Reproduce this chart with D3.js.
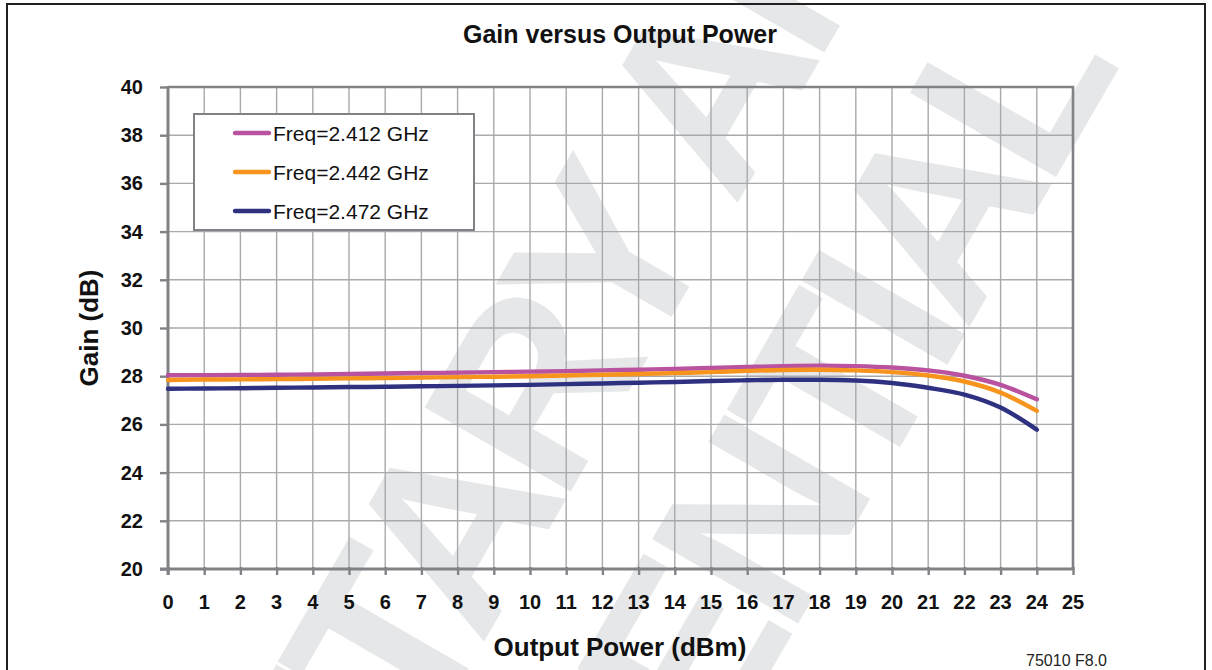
<!DOCTYPE html>
<html>
<head>
<meta charset="utf-8">
<script src="https://cdn.jsdelivr.net/npm/d3@7"></script>
<style>
  html, body { margin: 0; padding: 0; background: #fff; }
  svg { display: block; }
  text { font-family: "Liberation Sans", Arial, Helvetica, sans-serif; }
</style>
</head>
<body>
<svg id="chart" width="1212" height="670"></svg>
<script>
// ---- data ----
const outputPower = [0,1,2,3,4,5,6,7,8,9,10,11,12,13,14,15,16,17,18,19,20,21,22,23,24];
const gain2412 = [28.04,28.04,28.05,28.06,28.07,28.09,28.11,28.13,28.15,28.17,28.19,28.21,28.24,28.27,28.30,28.34,28.38,28.42,28.44,28.42,28.36,28.24,28.02,27.64,27.04];
const gain2442 = [27.84,27.86,27.87,27.88,27.89,27.91,27.92,27.94,27.96,27.98,28.00,28.03,28.06,28.09,28.13,28.17,28.22,28.26,28.27,28.24,28.17,28.03,27.78,27.32,26.56];
const gain2472 = [27.48,27.49,27.50,27.52,27.53,27.55,27.56,27.58,27.60,27.62,27.64,27.67,27.70,27.73,27.76,27.80,27.83,27.85,27.85,27.82,27.72,27.52,27.24,26.70,25.78];
const seriesNames = ["Freq=2.412 GHz","Freq=2.442 GHz","Freq=2.472 GHz"];
const seriesColors = ["#b9529f","#f7941e","#2e3080"];
const xTicks = d3.range(0, 26, 1);
const yTicks = d3.range(20, 41, 2);
const titleText = "Gain versus Output Power";
const xTitle = "Output Power (dBm)";
const yTitle = "Gain (dB)";
const figLabel = "75010 F8.0";
const watermark1 = "PROPRIETARY AND";
const watermark2 = "CONFIDENTIAL";

// ---- layout ----
const svg = d3.select("#chart");
const plot = {left: 168, right: 1073, top: 87, bottom: 569};
const x = d3.scaleLinear().domain([0, 25]).range([plot.left, plot.right]);
const y = d3.scaleLinear().domain([20, 40]).range([plot.bottom, plot.top]);

// ---- watermark (behind everything) ----
const wm = svg.append("g").attr("fill", "#e6e7e8")
  .style("font-weight", "bold").style("font-size", "245px").style("letter-spacing", "-14px");
function wmPos(xt, yt) { // text-space -> screen for rotate(-60)
  const c = 0.5, s = Math.sqrt(3) / 2;
  return [c * xt + s * yt, -s * xt + c * yt];
}
const w1 = wm.append("text").attr("text-anchor", "start").text(watermark1);
// place so that the "T" of "...TARY" starts at the measured spot
const pre = w1.node().getSubStringLength(0, 7);
let p1 = wmPos(-437 - pre, 740);
w1.attr("transform", `translate(${p1[0]},${p1[1]}) rotate(-60)`);
let p2 = wmPos(494, 1003);
wm.append("text").attr("transform", `translate(${p2[0]},${p2[1]}) rotate(-60)`)
  .attr("text-anchor", "end").text(watermark2);

// ---- outer frame ----
svg.append("rect").attr("x", 7).attr("y", 4).attr("width", 1198).attr("height", 720)
  .attr("fill", "none").attr("stroke", "#231f20").attr("stroke-width", 2);

// ---- grid ----
const grid = svg.append("g").attr("stroke", "#a7a9ac").attr("stroke-width", 1.4);
grid.selectAll("line.v").data(xTicks.slice(1, -1)).join("line")
  .attr("x1", d => x(d)).attr("x2", d => x(d)).attr("y1", plot.top).attr("y2", plot.bottom);
grid.selectAll("line.h").data(yTicks.slice(1, -1)).join("line")
  .attr("x1", plot.left).attr("x2", plot.right).attr("y1", d => y(d)).attr("y2", d => y(d));

// plot frame (top/right)
svg.append("path")
  .attr("d", `M${plot.left},${plot.top}H${plot.right}V${plot.bottom}`)
  .attr("fill", "none").attr("stroke", "#808285").attr("stroke-width", 2.6);

// ---- axes ----
const axisColor = "#808285";
const yAxis = svg.append("g").attr("transform", `translate(${plot.left},0)`)
  .call(d3.axisLeft(y).tickValues(yTicks).tickSize(8).tickFormat(""));
yAxis.select(".domain").remove();
yAxis.selectAll(".tick line").attr("stroke", axisColor).attr("stroke-width", 2.4);

const xAxis = svg.append("g").attr("transform", `translate(0,${plot.bottom - 2})`)
  .call(d3.axisBottom(x).tickValues(xTicks).tickSize(8).tickFormat(""));
xAxis.select(".domain").remove();
xAxis.selectAll(".tick line").attr("stroke", axisColor).attr("stroke-width", 2.4);

svg.append("line").attr("x1", plot.left).attr("x2", plot.left)
  .attr("y1", plot.top - 1).attr("y2", plot.bottom + 6)
  .attr("stroke", axisColor).attr("stroke-width", 3);
svg.append("line").attr("x1", plot.left - 8).attr("x2", plot.right + 1.5)
  .attr("y1", plot.bottom).attr("y2", plot.bottom)
  .attr("stroke", axisColor).attr("stroke-width", 3);

// tick labels
svg.append("g").selectAll("text").data(yTicks).join("text")
  .attr("x", 143).attr("y", d => y(d) + 7)
  .attr("text-anchor", "end").style("font-weight", "bold").style("font-size", "20px")
  .attr("fill", "#111").text(d => d);
svg.append("g").selectAll("text").data(xTicks).join("text")
  .attr("x", d => x(d)).attr("y", 609)
  .attr("text-anchor", "middle").style("font-weight", "bold").style("font-size", "20px")
  .attr("fill", "#111").text(d => d);

// ---- series ----
const allSeries = [gain2412, gain2442, gain2472];
const line = d3.line().x((d, i) => x(outputPower[i])).y(d => y(d)).curve(d3.curveMonotoneX);
svg.append("g").selectAll("path").data(allSeries).join("path")
  .attr("d", d => line(d)).attr("fill", "none")
  .attr("stroke", (d, i) => seriesColors[i]).attr("stroke-width", 4.4)
  .attr("stroke-linecap", "round").attr("stroke-linejoin", "round");

// ---- legend ----
const lg = svg.append("g");
lg.append("rect").attr("x", 194).attr("y", 114).attr("width", 280).attr("height", 116)
  .attr("fill", "#fff").attr("stroke", "#808285").attr("stroke-width", 2);
const lgY = [133, 172, 211];
seriesNames.forEach((name, i) => {
  lg.append("line").attr("x1", 235).attr("x2", 269).attr("y1", lgY[i]).attr("y2", lgY[i])
    .attr("stroke", seriesColors[i]).attr("stroke-width", 4.4).attr("stroke-linecap", "round");
  lg.append("text").attr("x", 273).attr("y", lgY[i] + 7.5)
    .style("font-size", "21px").attr("fill", "#111").text(name);
});

// ---- titles ----
svg.append("text").attr("x", 620).attr("y", 43).attr("text-anchor", "middle")
  .style("font-weight", "bold").style("font-size", "25px").attr("fill", "#111").text(titleText);
svg.append("text").attr("x", 620).attr("y", 656).attr("text-anchor", "middle")
  .style("font-weight", "bold").style("font-size", "26px").attr("fill", "#111").text(xTitle);
svg.append("text").attr("transform", `translate(98,${(plot.top + plot.bottom) / 2}) rotate(-90)`)
  .attr("text-anchor", "middle")
  .style("font-weight", "bold").style("font-size", "26px").attr("fill", "#111").text(yTitle);
svg.append("text").attr("x", 1107).attr("y", 666).attr("text-anchor", "end")
  .style("font-size", "16px").attr("fill", "#231f20").text(figLabel);
</script>
</body>
</html>
